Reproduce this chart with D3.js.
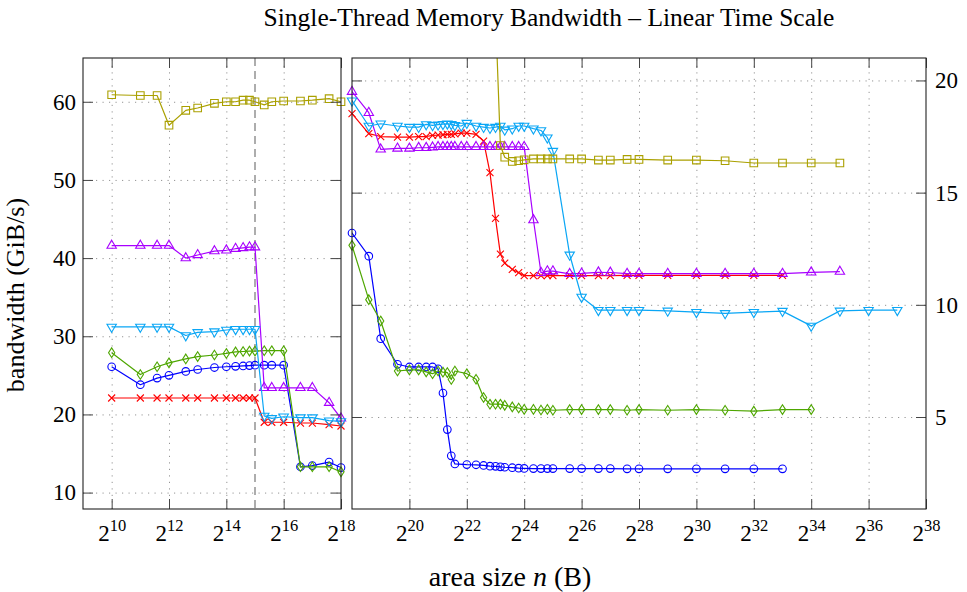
<!DOCTYPE html>
<html>
<head>
<meta charset="utf-8">
<script src="https://cdn.jsdelivr.net/npm/d3@7"></script>
<style>
  body { margin: 0; background: #fff; }
  svg text { font-family: "Liberation Serif", "DejaVu Serif", serif; fill: #000; }
</style>
</head>
<body>
<div id="chart"></div>
<script>
// area sizes (KiB) shared by all series
const sizesKiB = [1, 2, 3, 4, 6, 8, 12, 16, 20, 24, 28, 32, 40, 48, 64, 96, 128, 192, 256,
  384, 512, 768, 1024, 1280, 1536, 1792, 2048, 2304, 2560, 2816, 3072, 3584, 4096,
  5120, 6144, 7168, 8192, 9216, 10240, 12288, 14336, 16384, 20480, 24576, 28672, 32768,
  49152, 65536, 98304, 131072, 196608, 262144, 524288, 1048576, 2097152, 4194304,
  8388608, 16777216, 33554432, 67108864, 134217728];

// bandwidth, GiB/s (null = not measured)
const blueValues = [26.1, 23.8, 24.65, 25.0, 25.5, 25.75, 26.0, 26.1, 26.15, 26.2, 26.25, 26.3, 26.3, 26.3, 26.3, 13.3, 13.45, 13.9, 13.2,
  12.17, 8.49, 7.35, 7.23, 7.23, 7.23, 7.23, 7.15, 6.07, 4.44, 3.27, 2.91, null, 2.88, 2.87, 2.84, 2.81, 2.80, 2.78, 2.76, 2.74, 2.72, 2.71,
  2.70, 2.70, 2.70, 2.70, 2.70, 2.70, 2.70, 2.70, 2.69, 2.69, 2.69, 2.69, 2.69, 2.69, 2.69, null, null, null, null];
const redValues = [22.1, 22.1, 22.1, 22.1, 22.1, 22.1, 22.1, 22.1, 22.1, 22.1, 22.1, 22.1, 19.0, 19.0, 19.0, 18.9, 18.9, 18.7, 18.52,
  17.63, 17.5, 17.47, 17.47, 17.5, 17.5, 17.55, 17.56, 17.58, 17.6, 17.6, 17.62, 17.65, 17.65, 17.6, 17.3, 15.89, 13.85, 12.26, 11.86, 11.58, 11.43,
  11.30, 11.30, 11.30, 11.30, 11.30, 11.30, 11.30, 11.30, 11.30, 11.31, 11.31, 11.31, 11.31, 11.31, 11.31, 11.31, null, null, null, null];
const greenValues = [27.9, 25.1, 26.1, 26.6, 27.1, 27.4, 27.6, 27.8, 28.0, 28.05, 28.1, 28.1, 28.15, 28.15, 28.15, 13.3, 13.3, 13.3, 12.65,
  10.23, 9.28, 7.05, 7.1, 7.1, 7.01, 6.93, 7.05, 7.0, 6.98, 6.67, 7.05, null, 6.93, 6.68, 5.87, 5.57, 5.57, 5.57, 5.52, 5.45, 5.40, 5.34,
  5.34, 5.31, 5.34, 5.30, 5.33, 5.33, 5.33, 5.33, 5.30, 5.33, 5.30, 5.33, 5.30, 5.26, 5.33, 5.33, null, null, null];
const purpleValues = [41.6, 41.6, 41.6, 41.6, 40.0, 40.4, 40.9, 41.0, 41.2, 41.3, 41.4, 41.4, 23.4, 23.4, 23.4, 23.4, 23.4, 21.5, 19.5,
  18.56, 16.93, 16.97, 16.97, 17.0, 17.0, 17.02, 17.04, 17.04, 17.04, 17.04, 17.04, 17.04, 17.04, 17.04, 17.04, 17.04, 17.04, 17.04, 17.04, 17.04, 17.04, 17.04,
  13.78, 11.43, 11.5, 11.5, 11.38, 11.4, 11.45, 11.44, 11.39, 11.39, 11.39, 11.39, 11.39, 11.39, 11.39, 11.45, 11.48, null, null];
const cyanValues = [31.2, 31.2, 31.2, 31.2, 30.1, 30.5, 30.6, 30.8, 30.9, 30.9, 30.9, 30.9, 19.8, 19.5, 19.7, 19.6, 19.6, 19.2, 19.1,
  17.97, 18.07, 17.97, 17.92, 17.92, 18.04, 18.0, 18.03, 18.05, 18.07, 18.05, 18.0, 17.97, 18.1, 17.97, 17.92, 17.88, 17.92, 17.97, 17.8, 17.85, 17.97, 17.97,
  17.85, 17.77, 17.45, 16.85, 12.23, 10.35, 9.76, 9.76, 9.76, 9.76, 9.73, 9.67, 9.62, 9.67, 9.72, 9.06, 9.73, 9.76, 9.76];
const oliveValues = [60.9, 60.8, 60.8, 57.0, 58.9, 59.2, 59.8, 60.0, 60.0, 60.2, 60.2, 60.0, 59.6, 60.0, 60.1, 60.1, 60.2, 60.4, 60.0,
  null, null, null, null, null, null, null, null, null, null, null, null, null, null, null, null, null, 23.0,
  17.1, 16.58, 16.39, 16.42, 16.46, 16.5, 16.5, 16.5, 16.5, 16.5, 16.5, 16.45, 16.45, 16.48, 16.48, 16.45, 16.45, 16.42, 16.32, 16.32, 16.32, 16.32, null, null];

// tick exponents / values
const leftTickExp = [10, 12, 14, 16, 18];
const rightTickExp = [20, 22, 24, 26, 28, 30, 32, 34, 36, 38];
const leftYTicks = [10, 20, 30, 40, 50, 60];
const rightYTicks = [5, 10, 15, 20];
const cacheMarkExp = 15;

const series = [
  { values: blueValues, color: '#0000ff', mark: 'circle' },
  { values: redValues, color: '#ff0000', mark: 'cross' },
  { values: greenValues, color: '#4ea600', mark: 'diamond' },
  { values: purpleValues, color: '#a800ff', mark: 'triUp' },
  { values: cyanValues, color: '#0aa6f5', mark: 'triDown' },
  { values: oliveValues, color: '#aaa000', mark: 'square' }
];

const markPaths = {
  square: 'M-3.8,-3.8h7.6v7.6h-7.6Z',
  triUp: 'M0,-5.4L4.7,2.7L-4.7,2.7Z',
  triDown: 'M0,5.4L4.7,-2.7L-4.7,-2.7Z',
  diamond: 'M0,-4.8L3.1,0L0,4.8L-3.1,0Z',
  cross: 'M-3.5,-3.5L3.5,3.5M-3.5,3.5L3.5,-3.5'
};

const W = 967, H = 592;
const plotTop = 58, plotBottom = 509;
const serif = '"Liberation Serif", "DejaVu Serif", serif';
const tickFont = 23;

const svg = d3.select('#chart').append('svg')
  .attr('width', W).attr('height', H);

const panels = [
  { id: 'L', x0: 83, x1: 341, xDomain: [2 ** 9, 2 ** 18], yDomain: [7.9, 65.6],
    gridExp: [10, 12, 14, 16], labelExp: leftTickExp, yTicks: leftYTicks, labelSide: 'left' },
  { id: 'R', x0: 352, x1: 926, xDomain: [2 ** 18, 2 ** 38], yDomain: [0.9, 21.0],
    gridExp: [20, 22, 24, 26, 28, 30, 32, 34, 36], labelExp: rightTickExp, yTicks: rightYTicks, labelSide: 'right' }
];

panels.forEach(p => {
  const x = d3.scaleLog().base(2).domain(p.xDomain).range([p.x0, p.x1]);
  const y = d3.scaleLinear().domain(p.yDomain).range([plotBottom, plotTop]);
  const w = p.x1 - p.x0, h = plotBottom - plotTop;
  const g = svg.append('g');

  // dotted grid
  g.append('g').attr('transform', `translate(0,${plotBottom})`)
    .call(d3.axisBottom(x).tickValues(p.gridExp.map(e => 2 ** e)).tickSize(-h).tickFormat(''))
    .call(a => a.select('.domain').remove())
    .selectAll('line').attr('stroke', '#959595').attr('stroke-dasharray', '1.2,5.3');
  g.append('g').attr('transform', `translate(${p.x0},0)`)
    .call(d3.axisLeft(y).tickValues(p.yTicks).tickSize(-w).tickFormat(''))
    .call(a => a.select('.domain').remove())
    .selectAll('line').attr('stroke', '#959595').attr('stroke-dasharray', '1.2,5.3');

  // cache boundary marker in the left panel
  if (p.id === 'L') {
    g.append('line')
      .attr('x1', x(2 ** cacheMarkExp)).attr('x2', x(2 ** cacheMarkExp))
      .attr('y1', plotTop).attr('y2', plotBottom)
      .attr('stroke', '#777').attr('stroke-width', 1.2).attr('stroke-dasharray', '8,5');
  }

  // clip for the lines
  g.append('clipPath').attr('id', 'clip' + p.id)
    .append('rect').attr('x', p.x0).attr('y', plotTop).attr('width', w).attr('height', h);

  const line = d3.line().x(d => x(d.n)).y(d => y(d.v));
  const eps = 1e-6;

  series.forEach(s => {
    const pts = sizesKiB.map((k, i) => ({ n: k * 1024, v: s.values[i] })).filter(d => d.v != null);
    g.append('path').datum(pts)
      .attr('clip-path', `url(#clip${p.id})`)
      .attr('fill', 'none').attr('stroke', s.color).attr('stroke-width', 1.2)
      .attr('stroke-linejoin', 'round')
      .attr('d', line);

    const vis = pts.filter(d => d.n >= p.xDomain[0] * (1 - eps) && d.n <= p.xDomain[1] * (1 + eps)
      && d.v >= p.yDomain[0] && d.v <= p.yDomain[1]);
    const mk = g.append('g').attr('fill', 'none').attr('stroke', s.color).attr('stroke-width', 1.1);
    if (s.mark === 'circle') {
      mk.selectAll('circle').data(vis).join('circle')
        .attr('cx', d => x(d.n)).attr('cy', d => y(d.v)).attr('r', 3.8);
    } else {
      mk.selectAll('path').data(vis).join('path')
        .attr('transform', d => `translate(${x(d.n)},${y(d.v)})`)
        .attr('d', markPaths[s.mark]);
    }
  });

  // inward ticks on all four sides
  const tickCol = '#444';
  const bottomAxis = g.append('g').attr('transform', `translate(0,${plotBottom})`)
    .call(d3.axisBottom(x).tickValues(p.labelExp.map(e => 2 ** e)).tickSizeInner(-10).tickSizeOuter(0))
    .attr('color', tickCol).attr('font-size', tickFont).attr('font-family', serif)
    .call(a => a.select('.domain').remove());
  bottomAxis.selectAll('.tick text').each(function (d) {
    const t = d3.select(this);
    const e = Math.round(Math.log2(d));
    t.text(null).attr('y', 32).attr('dy', null).attr('fill', '#000');
    t.append('tspan').text('2');
    t.append('tspan').attr('dy', -10).attr('font-size', 16.5).text(e);
  });
  g.append('g').attr('transform', `translate(0,${plotTop})`)
    .call(d3.axisTop(x).tickValues(p.labelExp.map(e => 2 ** e)).tickSizeInner(-10).tickSizeOuter(0).tickFormat(''))
    .attr('color', tickCol)
    .call(a => a.select('.domain').remove());

  const labelled = p.labelSide === 'left';
  g.append('g').attr('transform', `translate(${p.x0},0)`)
    .call(d3.axisLeft(y).tickValues(p.yTicks).tickSizeInner(-10).tickSizeOuter(0).tickPadding(7)
      .tickFormat(labelled ? d3.format('d') : ''))
    .attr('color', tickCol).attr('font-size', tickFont).attr('font-family', serif)
    .call(a => a.select('.domain').remove())
    .selectAll('text').attr('fill', '#000');
  g.append('g').attr('transform', `translate(${p.x1},0)`)
    .call(d3.axisRight(y).tickValues(p.yTicks).tickSizeInner(-10).tickSizeOuter(0).tickPadding(9)
      .tickFormat(labelled ? '' : d3.format('d')))
    .attr('color', tickCol).attr('font-size', tickFont).attr('font-family', serif)
    .call(a => a.select('.domain').remove())
    .selectAll('text').attr('fill', '#000');

  // frame
  g.append('rect').attr('x', p.x0).attr('y', plotTop).attr('width', w).attr('height', h)
    .attr('fill', 'none').attr('stroke', '#222').attr('stroke-width', 1.1);
});

// title and axis labels
svg.append('text').attr('x', 549).attr('y', 26).attr('text-anchor', 'middle')
  .attr('font-size', 25.5).text('Single-Thread Memory Bandwidth – Linear Time Scale');

const xl = svg.append('text').attr('x', 510).attr('y', 586).attr('text-anchor', 'middle').attr('font-size', 28);
xl.append('tspan').text('area size ');
xl.append('tspan').attr('font-style', 'italic').text('n');
xl.append('tspan').text(' (B)');

svg.append('text').attr('transform', 'translate(24,295) rotate(-90)')
  .attr('text-anchor', 'middle').attr('font-size', 26).text('bandwidth (GiB/s)');
</script>
</body>
</html>
